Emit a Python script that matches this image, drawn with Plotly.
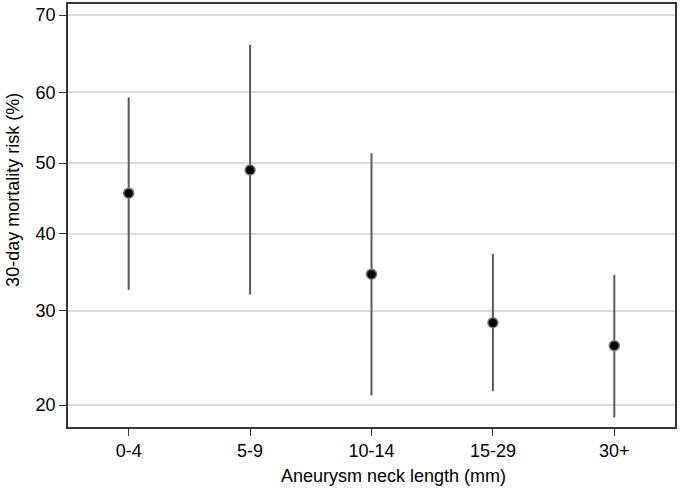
import numpy as np
import plotly.graph_objects as go

categories = ["0-4", "5-9", "10-14", "15-29", "30+"]
risk = [45.7, 49.0, 34.6, 28.6, 26.0]
lower = [32.6, 32.0, 20.9, 21.3, 18.9]
upper = [59.3, 66.3, 51.4, 37.3, 34.5]
ytick_labels = [20, 30, 40, 50, 60, 70]


def logit(pct):
    p = np.asarray(pct, dtype=float) / 100.0
    return np.log(p / (1 - p))


y = logit(risk)
err_plus = logit(upper) - y
err_minus = y - logit(lower)

fig = go.Figure()
fig.add_trace(go.Scatter(
    x=categories, y=y, mode="markers",
    marker=dict(color="black", size=10, line=dict(color="#7a7a7a", width=1.5)),
    error_y=dict(type="data", symmetric=False, array=err_plus, arrayminus=err_minus,
                 color="#5a5a5a", thickness=2, width=0),
    showlegend=False,
))

axis_common = dict(showline=True, linecolor="#333333", linewidth=1.5, mirror=True,
                   ticks="outside", ticklen=7, tickcolor="#333333", tickwidth=1,
                   tickfont=dict(size=18, color="black"), automargin=False)

fig.update_layout(
    width=680, height=491,
    margin=dict(l=68, r=5, t=4, b=64),
    paper_bgcolor="white", plot_bgcolor="white",
    font=dict(family="Liberation Sans, Arial, sans-serif", color="black"),
    xaxis=dict(range=[-0.5, 4.5], showgrid=False, **axis_common),
    yaxis=dict(range=[-1.512, 0.911], tickvals=logit(ytick_labels),
               ticktext=[str(v) for v in ytick_labels],
               showgrid=True, gridcolor="#dcdcdc", gridwidth=1.5, zeroline=False,
               **axis_common),
    annotations=[
        dict(text="Aneurysm neck length (mm)", xref="paper", yref="paper",
             x=0.537, y=-0.116, xanchor="center", yanchor="middle",
             showarrow=False, font=dict(size=18, color="black")),
        dict(text="30-day mortality risk (%)", xref="paper", yref="paper",
             x=-0.091, y=0.56, xanchor="center", yanchor="middle", textangle=-90,
             showarrow=False, font=dict(size=18, color="black")),
    ],
)

fig.write_html("out.html", config={"displayModeBar": False},
               post_script="document.body.style.margin='0';")
